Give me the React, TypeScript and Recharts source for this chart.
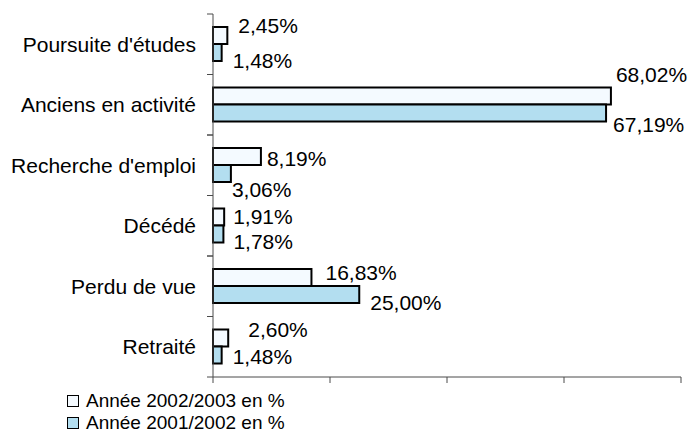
import React from "react";
import { Bar, BarChart, LabelList, XAxis, YAxis } from "recharts";

const categories = ["Poursuite d'études", "Anciens en activité", "Recherche d'emploi", "Décédé", "Perdu de vue", "Retraité"];
const annee2003 = [2.45, 68.02, 8.19, 1.91, 16.83, 2.6];
const annee2002 = [1.48, 67.19, 3.06, 1.78, 25.0, 1.48];
const xTicks = [0, 20, 40, 60, 80];

const series = [
	{ key: "a2003", name: "Année 2002/2003 en %", fill: "#f4faff" },
	{ key: "a2002", name: "Année 2001/2002 en %", fill: "#b3def0" },
];

// excel placed the data labels a bit everywhere, nudges per label [dx, dy]
const labelNudge: { [key: string]: number[][] } = {
	a2003: [[11, -10], [5, -21], [6, 2], [9, 0], [14, -5], [20, -8]],
	a2002: [[11, 8], [7, 12], [1, 16], [10, 8], [11, 8], [11, 2]],
};

const data = categories.map((name, i) => ({ name, a2003: annee2003[i], a2002: annee2002[i] }));

const FONT = "'Liberation Sans', Arial, sans-serif";
const AXIS = "#4a4a4a";

const fmt = (v: number) => v.toFixed(2).replace(".", ",") + "%";

const CategoryTick = (props: any) => {
	const { y, payload } = props;
	const half = payload.offset || 30.25;
	return (
		<g>
			<line x1={207} x2={213} y1={y - half} y2={y - half} stroke={AXIS} />
			<line x1={207} x2={213} y1={y + half} y2={y + half} stroke={AXIS} />
			<text x={196} y={y} dy="0.35em" textAnchor="end" fontSize={21} fontFamily={FONT} fill="#000">
				{payload.value}
			</text>
		</g>
	);
};

const makeLabel = (key: string) => (props: any) => {
	const { x, y, width, height, value, index } = props;
	const [dx, dy] = labelNudge[key][index];
	return (
		<text x={x + width + dx} y={y + height / 2 + dy} dy="0.35em" fontSize={21} fontFamily={FONT} fill="#000">
			{fmt(value)}
		</text>
	);
};

export default function App() {
	return (
		<div style={{ position: "absolute", left: 0, top: 0, width: 692, height: 434, overflow: "hidden", background: "#fff" }}>
			<BarChart
				width={692}
				height={434}
				data={data}
				layout="vertical"
				margin={{ top: 14, right: 11, left: 0, bottom: 51 }}
				barCategoryGap="21.5%"
				barGap={0}
			>
				<XAxis
					type="number"
					domain={[0, 80]}
					ticks={xTicks}
					height={6}
					stroke={AXIS}
					tickSize={6}
					tick={() => <g />}
				/>
				<YAxis
					type="category"
					dataKey="name"
					width={213}
					stroke={AXIS}
					tickLine={false}
					tick={<CategoryTick />}
					interval={0}
				/>
				{series.map((s) => (
					<Bar key={s.key} dataKey={s.key} name={s.name} fill={s.fill} stroke="#000" strokeWidth={2} isAnimationActive={false}>
						<LabelList dataKey={s.key} content={makeLabel(s.key)} />
					</Bar>
				))}
			</BarChart>
			<div style={{ position: "absolute", left: 67, top: 390, fontFamily: FONT, fontSize: 19, lineHeight: "22px" }}>
				{series.map((s) => (
					<div key={s.key} style={{ display: "flex", alignItems: "center", height: 22 }}>
						<span style={{ width: 10, height: 10, border: "1.5px solid #000", background: s.fill, marginRight: 7 }} />
						<span>{s.name}</span>
					</div>
				))}
			</div>
		</div>
	);
}
